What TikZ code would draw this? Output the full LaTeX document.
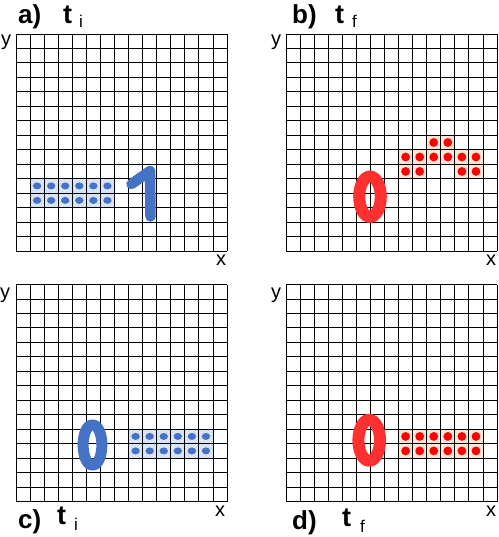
\documentclass[tikz,border=0pt]{standalone}
\usepackage{fontspec}
\setmainfont{Liberation Sans}
\usepackage{tikz}
\usetikzlibrary{calc}

\definecolor{digblue}{RGB}{68,114,196}
\definecolor{shadeblue}{RGB}{218,227,243}
\definecolor{dotred}{RGB}{255,0,0}
\definecolor{digred}{RGB}{255,48,48}
\definecolor{shadered}{RGB}{251,229,214}

\tikzset{
  gridline/.style={line width=0.9pt, black},
  panellabel/.style={anchor=base west, inner sep=0pt, font=\fontsize{26}{28}\selectfont\bfseries},
  timelabel/.style={anchor=base west, inner sep=0pt, font=\fontsize{27}{29}\selectfont\bfseries},
  sublabel/.style={anchor=base west, inner sep=0pt, font=\fontsize{17}{19}\selectfont},
  axislabel/.style={anchor=base west, inner sep=0pt, font=\fontsize{20}{22}\selectfont},
  bluedot/.style={fill=digblue, x radius=4.2pt, y radius=3.5pt},
  reddot/.style={fill=dotred, radius=4.4pt},
  digit/.style={line width=#1, line cap=round, line join=round}
}

% one 15x15 lattice with shaded occupied cells and particles
\newcommand{\lattice}[5]{%
  \begin{scope}[xshift=#1pt, yshift=-#2pt, x=14.07pt, y=-14.47pt]
    \foreach \c/\r in {#3}
      \fill[#4] (\c,\r) rectangle ++(1,1);
    \foreach \k in {0,...,15} {
      \draw[gridline] (\k,0) -- (\k,15);
      \draw[gridline] (0,\k) -- (15,\k);
    }
    \foreach \c/\r in {#3}
      \fill[#5] (\c+0.5,\r+0.5) circle;
  \end{scope}}

\begin{document}
\begin{tikzpicture}[x=1pt, y=-1pt]
    \useasboundingbox (0,0) rectangle (498,537);
    % a) initial, digit 1
    \lattice{16}{34}{1/10,2/10,3/10,4/10,5/10,6/10,1/11,2/11,3/11,4/11,5/11,6/11}{shadeblue}{bluedot}
    \draw[digit=10.5pt, digblue] (131.5,184) -- (150,171) -- (150.5,216.5);
    \node[panellabel] (lab-a) at (18,24) {a)};
    \node[timelabel] (t-a) at (63,24) {t};
    \node[sublabel] (s-a) at (79,28) {i};
    \node[axislabel] (y-a) at (1,46) {y};
    \node[axislabel] (x-a) at (216,265) {x};
    % b) final, digit 0
    \lattice{286}{34}{10/7,11/7,8/8,9/8,10/8,11/8,12/8,13/8,8/9,9/9,12/9,13/9}{shadered}{reddot}
    \draw[digit=12pt, digred] (370,196.7) ellipse [x radius=10.8, y radius=20.2];
    \node[panellabel] (lab-b) at (292,24) {b)};
    \node[timelabel] (t-b) at (335,24) {t};
    \node[sublabel] (s-b) at (352,28) {f};
    \node[axislabel] (y-b) at (271,46) {y};
    \node[axislabel] (x-b) at (486,265) {x};
    % c) initial, digit 0
    \lattice{16}{284.5}{8/10,9/10,10/10,11/10,12/10,13/10,8/11,9/11,10/11,11/11,12/11,13/11}{shadeblue}{bluedot}
    \draw[digit=11pt, digblue] (92.5,445) ellipse [x radius=9.4, y radius=20.4];
    \node[panellabel] (lab-c) at (18,528) {c)};
    \node[timelabel] (t-c) at (57,524) {t};
    \node[sublabel] (s-c) at (74,530) {i};
    \node[axislabel] (y-c) at (0,298) {y};
    \node[axislabel] (x-c) at (215,516) {x};
    % d) final, digit 0
    \lattice{286}{284.5}{8/10,9/10,10/10,11/10,12/10,13/10,8/11,9/11,10/11,11/11,12/11,13/11}{shadered}{reddot}
    \draw[digit=12pt, digred] (369.2,440.3) ellipse [x radius=10.8, y radius=20.5];
    \node[panellabel] (lab-d) at (292,529) {d)};
    \node[timelabel] (t-d) at (342,526) {t};
    \node[sublabel] (s-d) at (360,532) {f};
    \node[axislabel] (y-d) at (271,298) {y};
    \node[axislabel] (x-d) at (486,516) {x};
\end{tikzpicture}
\end{document}
